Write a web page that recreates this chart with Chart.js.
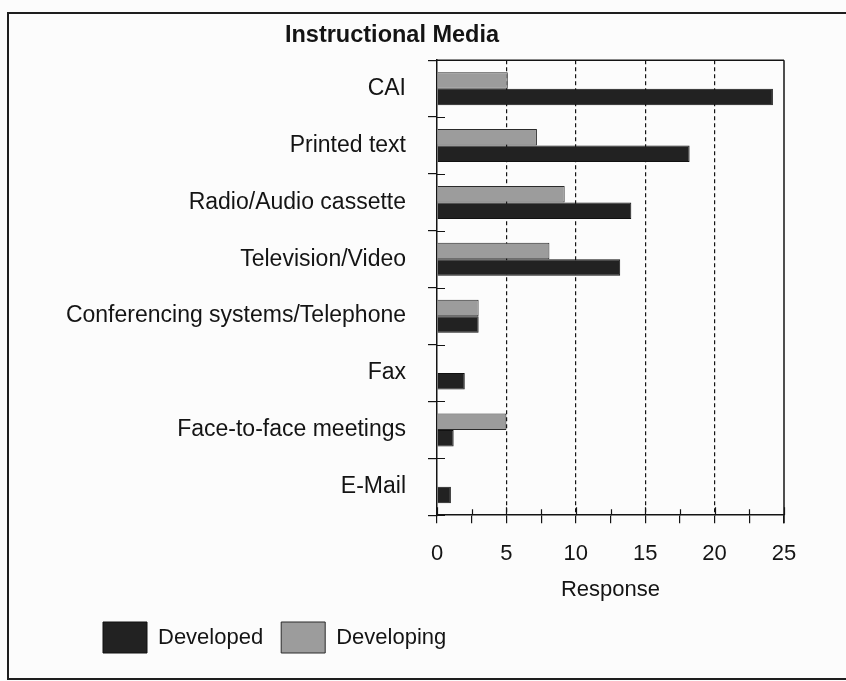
<!DOCTYPE html>
<html>
<head>
<meta charset="utf-8">
<script src="https://cdn.jsdelivr.net/npm/chart.js@4/dist/chart.umd.min.js"></script>
<style>
  html, body { margin: 0; padding: 0; background: #fcfcfc; }
  #wrap { position: relative; width: 846px; height: 681px; overflow: hidden; }
  #frame { position: absolute; left: 7px; top: 12px; width: 900px; height: 668px;
           border: 2px solid #1e1e1e; box-sizing: border-box; }
  #c { position: absolute; left: 0; top: 0; }
</style>
</head>
<body>
<div id="wrap">
  <div id="frame"></div>
  <canvas id="c" width="846" height="681"></canvas>
</div>
<script>
// Survey responses by instructional medium
const categories = [
  'CAI',
  'Printed text',
  'Radio/Audio cassette',
  'Television/Video',
  'Conferencing systems/Telephone',
  'Fax',
  'Face-to-face meetings',
  'E-Mail'
];
const developed  = [24.2, 18.2, 14.0, 13.2, 3.0, 2.0, 1.2, 1.0];
const developing = [5.1, 7.2, 9.2, 8.1, 3.0, 0, 5.0, 0];
const xMin = 0;
const xMax = 25;
const xStep = 2.5;

const FONT = "'Liberation Sans', Arial, sans-serif";
const INK = '#141414';

// Short marks that cross the axes, plus the top and right edges of the plot box
const axisMarks = {
  id: 'axisMarks',
  afterLayout(chart) {
    chart.legend.left += 85;
  },
  afterDraw(chart) {
    const { ctx, chartArea: a, scales: { x, y } } = chart;
    ctx.save();
    ctx.strokeStyle = INK;
    ctx.lineWidth = 1.5;
    ctx.beginPath();
    // plot box top and right edges
    ctx.moveTo(a.left, a.top);
    ctx.lineTo(a.right, a.top);
    ctx.moveTo(a.right, a.top);
    ctx.lineTo(a.right, a.bottom + 8);
    ctx.stroke();
    ctx.lineWidth = 1.2;
    ctx.beginPath();
    // x tick marks above the axis
    x.ticks.forEach(t => {
      const px = Math.round(x.getPixelForValue(t.value)) + 0.5;
      const len = t.value % 5 === 0 ? 8 : 6;
      ctx.moveTo(px, a.bottom - len);
      ctx.lineTo(px, a.bottom);
    });
    // y band-boundary marks right of the axis
    for (let i = 0; i <= categories.length; i++) {
      const py = Math.round(y.getPixelForValue(i - 0.5)) + 0.5;
      ctx.moveTo(a.left, py);
      ctx.lineTo(a.left + 8, py);
    }
    ctx.stroke();
    ctx.restore();
  }
};

new Chart(document.getElementById('c'), {
  type: 'bar',
  data: {
    labels: categories,
    datasets: [
      {
        label: 'Developing',
        data: developing,
        backgroundColor: '#9c9c9c',
        borderColor: '#2a2a2a',
        borderWidth: c => (c.raw ? 1 : 0),
        categoryPercentage: 0.58,
        barPercentage: 1.0
      },
      {
        label: 'Developed',
        data: developed,
        backgroundColor: '#222222',
        borderColor: '#111111',
        borderWidth: c => (c.raw ? 1 : 0),
        categoryPercentage: 0.58,
        barPercentage: 1.0
      }
    ]
  },
  options: {
    indexAxis: 'y',
    responsive: false,
    animation: false,
    devicePixelRatio: 1,
    layout: { padding: { left: 0, right: 62, top: 0, bottom: 18 } },
    scales: {
      x: {
        type: 'linear',
        position: 'bottom',
        min: xMin,
        max: xMax,
        ticks: {
          stepSize: xStep,
          autoSkip: false,
          maxRotation: 0,
          color: INK,
          padding: 18,
          font: { family: FONT, size: 22 },
          callback: v => (v % 5 === 0 ? v : '')
        },
        grid: {
          color: c => (c.tick && c.tick.value % 5 === 0 && c.tick.value > xMin && c.tick.value < xMax)
            ? INK : 'rgba(0,0,0,0)',
          lineWidth: 1.2,
          tickColor: INK,
          tickLength: 8,
          tickWidth: 1.2
        },
        border: { color: INK, width: 1.5, dash: [4, 3] },
        title: {
          display: true,
          text: 'Response',
          color: INK,
          font: { family: FONT, size: 22 },
          padding: { top: -9, bottom: 1 }
        }
      },
      y: {
        type: 'category',
        offset: true,
        grid: {
          offset: true,
          drawOnChartArea: false,
          color: INK,
          tickLength: 9,
          lineWidth: 1.2
        },
        border: { color: INK, width: 1.5 },
        ticks: {
          color: INK,
          padding: 22,
          font: { family: FONT, size: 23 }
        },
        afterFit(scale) {
          scale.width = 437;
        }
      }
    },
    plugins: {
      title: {
        display: true,
        text: 'Instructional Media',
        color: INK,
        font: { family: FONT, size: 23.5, weight: 'bold' },
        padding: { top: 21, bottom: 11 }
      },
      legend: {
        position: 'bottom',
        align: 'start',
        reverse: true,
        labels: {
          boxWidth: 44,
          boxHeight: 31,
          padding: 18,
          color: INK,
          font: { family: FONT, size: 22 }
        }
      },
      tooltip: { enabled: false }
    }
  },
  plugins: [axisMarks]
});
</script>
</body>
</html>
